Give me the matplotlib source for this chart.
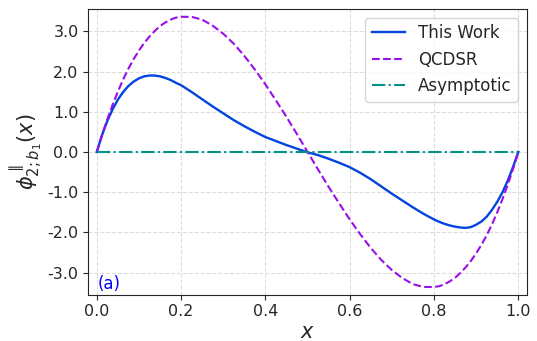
import matplotlib
matplotlib.use('Agg')
import matplotlib.pyplot as plt
from matplotlib.ticker import FormatStrFormatter

plt.rcParams['axes.unicode_minus'] = False

x = [0.0, 0.0125, 0.025, 0.0375, 0.05, 0.0625, 0.075, 0.0875, 0.1, 0.1125,
     0.125, 0.1375, 0.15, 0.1625, 0.175, 0.1875, 0.2, 0.225,
     0.25, 0.275, 0.3, 0.325, 0.35, 0.375, 0.4, 0.425, 0.45, 0.475,
     0.5, 0.525, 0.55, 0.575, 0.6, 0.625, 0.65, 0.675, 0.7, 0.725,
     0.75, 0.775, 0.8, 0.8125, 0.825, 0.8375, 0.85, 0.8625, 0.875, 0.8875,
     0.9, 0.9125, 0.925, 0.9375, 0.95, 0.9625, 0.975, 0.9875, 1.0]

this_work = [0.0, 0.42, 0.77, 1.06, 1.30, 1.49, 1.64, 1.75, 1.83, 1.88,
             1.90, 1.90, 1.88, 1.84, 1.79, 1.72, 1.66, 1.49,
             1.31, 1.13, 0.96, 0.79, 0.64, 0.50, 0.37, 0.27, 0.17, 0.08,
             -0.01, -0.08, -0.17, -0.27, -0.38, -0.52, -0.68, -0.86, -1.04, -1.21,
             -1.38, -1.54, -1.68, -1.74, -1.79, -1.83, -1.86, -1.88, -1.89, -1.87,
             -1.81, -1.73, -1.61, -1.44, -1.24, -1.00, -0.71, -0.37, 0.0]

qcdsr = [0.0, 0.42, 0.81, 1.17, 1.50, 1.80, 2.07, 2.31, 2.52, 2.71,
         2.87, 3.01, 3.13, 3.22, 3.29, 3.34, 3.36, 3.36,
         3.29, 3.14, 2.94, 2.69, 2.39, 2.05, 1.68, 1.28, 0.87, 0.44,
         0.0, -0.44, -0.87, -1.28, -1.68, -2.05, -2.39, -2.69, -2.94, -3.14,
         -3.29, -3.36, -3.36, -3.34, -3.29, -3.22, -3.13, -3.01, -2.87, -2.71,
         -2.52, -2.31, -2.07, -1.80, -1.50, -1.17, -0.81, -0.42, 0.0]

asymptotic = [0.0] * len(x)

fig = plt.figure(figsize=(5.37, 3.41), dpi=100)
ax = fig.add_axes([0.1645, 0.136, 0.8165, 0.837])

ax.plot(x, this_work, color='#0343df', linewidth=1.7, label='This Work')
ax.plot(x, qcdsr, color='#9a0eea', linestyle='--', linewidth=1.5, label='QCDSR')
ax.plot(x, asymptotic, color='#029386', linestyle='-.', linewidth=1.5, label='Asymptotic')

ax.set_xlim(-0.02, 1.02)
ax.set_ylim(-3.55, 3.55)
ax.set_xticks([0.0, 0.2, 0.4, 0.6, 0.8, 1.0])
ax.set_yticks([-3, -2, -1, 0, 1, 2, 3])
ax.xaxis.set_major_formatter(FormatStrFormatter('%.1f'))
ax.yaxis.set_major_formatter(FormatStrFormatter('%.1f'))
ax.tick_params(labelsize=11.5, labelcolor='#262626', color='#262626')
for s in ax.spines.values():
    s.set_color('#262626')

ax.set_xlabel(r'$x$', fontsize=15, labelpad=2, color='#262626')
ax.set_ylabel(r'$\phi^{\parallel}_{2;b_1}(x)$', fontsize=15, labelpad=2, color='#262626')

ax.grid(True, linestyle='--', color='#dddddd', linewidth=0.8)
leg = ax.legend(fontsize=12, loc='upper right')
for t in leg.get_texts():
    t.set_color('#262626')
ax.text(0.022, 0.018, '(a)', transform=ax.transAxes, color='blue', fontsize=12)

fig.savefig('out.png', dpi=100)
